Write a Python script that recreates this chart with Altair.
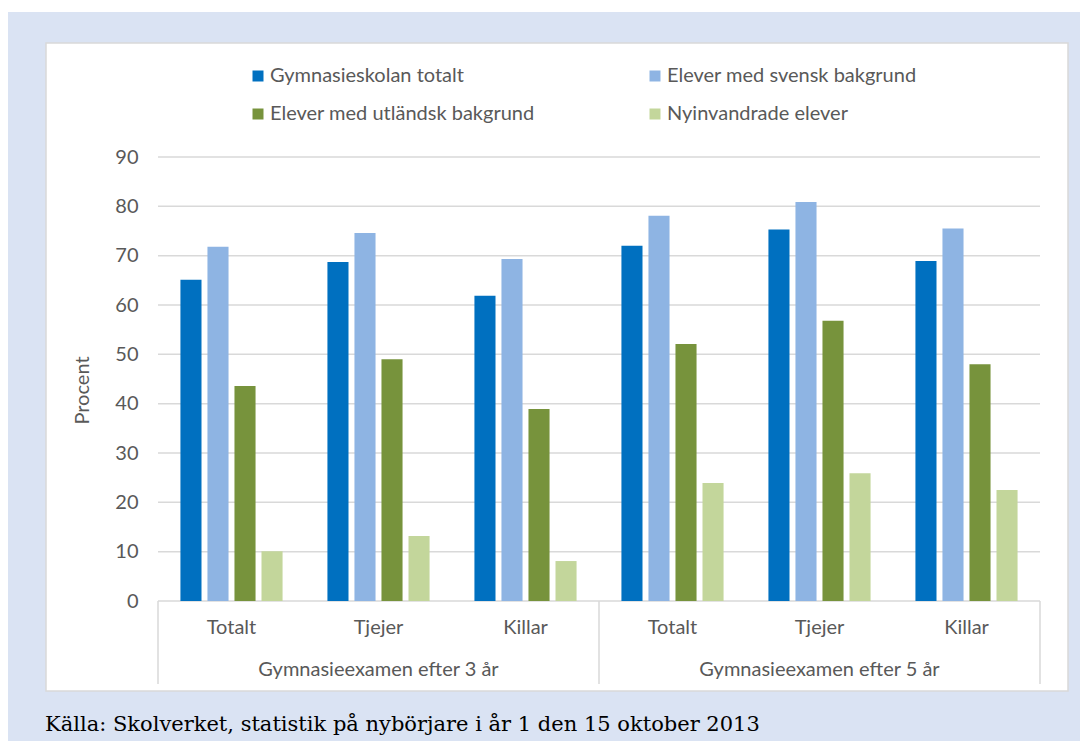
import altair as alt
import pandas as pd

# ---- data -------------------------------------------------------------
group_labels = ["Gymnasieexamen efter 3 år", "Gymnasieexamen efter 5 år"]
group_codes = ["3", "5"]
categories = ["Totalt", "Tjejer", "Killar"]
series = [
    "Gymnasieskolan totalt",
    "Elever med svensk bakgrund",
    "Elever med utländsk bakgrund",
    "Nyinvandrade elever",
]
gymnasieskolan_totalt = [65.1, 68.7, 61.9, 72.0, 75.3, 68.9]
svensk_bakgrund = [71.8, 74.6, 69.3, 78.1, 80.9, 75.5]
utlandsk_bakgrund = [43.6, 49.0, 38.9, 52.1, 56.8, 48.0]
nyinvandrade = [10.1, 13.2, 8.1, 23.9, 25.9, 22.5]
y_ticks = [0, 10, 20, 30, 40, 50, 60, 70, 80, 90]
source_text = "Källa: Skolverket, statistik på nybörjare i år 1 den 15 oktober 2013"

colors = ["#0070C0", "#8EB4E3", "#77933C", "#C3D69B"]
GRAY_TXT = "#595959"
GRID = "#D9D9D9"
BLUE_BG = "#DAE3F3"
FONT = "Lato"

keys = [f"{g}|{c}" for g in group_codes for c in categories]
rows = []
for s, vals in zip(series, [gymnasieskolan_totalt, svensk_bakgrund, utlandsk_bakgrund, nyinvandrade]):
    for k, v in zip(keys, vals):
        rows.append({"key": k, "series": s, "value": v})
df = pd.DataFrame(rows)

W, H = 882, 444
xscale = alt.Scale(domain=keys, paddingInner=0, paddingOuter=0)
xaxis = alt.Axis(
    title=None, labelExpr="split(datum.label, '|')[1]", labelAngle=0,
    ticks=False, domain=False, grid=False, labelFont=FONT, labelFontSize=20,
    labelColor=GRAY_TXT, labelPadding=16, labelBaseline="top", zindex=1,
)
yscale = alt.Scale(domain=[0, 90], nice=False)
yaxis = alt.Axis(
    values=y_ticks, title="Procent", ticks=False, domain=False, grid=False,
    labelFont=FONT, labelFontSize=20, labelColor=GRAY_TXT, labelPadding=20,
    titleFont=FONT, titleFontSize=20, titleFontWeight="normal", titleColor=GRAY_TXT,
    titlePadding=22, titleY=233, zindex=1,
)

one = pd.DataFrame({"a": [0]})

blue_bg = alt.Chart(one).mark_rect(color=BLUE_BG).encode(
    x=alt.value(-150), x2=alt.value(930), y=alt.value(-145), y2=alt.value(600)
)
panel = alt.Chart(one).mark_rect(fill="white", stroke=GRID, strokeWidth=1.5).encode(
    x=alt.value(-112), x2=alt.value(910), y=alt.value(-114), y2=alt.value(534)
)

grid = alt.Chart(pd.DataFrame({"value": y_ticks})).mark_rule(color=GRID, strokeWidth=1.5).encode(
    y=alt.Y("value:Q", scale=yscale, axis=yaxis)
)

bars = alt.Chart(df).mark_bar().encode(
    x=alt.X("key:N", scale=xscale, axis=xaxis),
    xOffset=alt.XOffset("series:N", scale=alt.Scale(domain=series, paddingInner=0.22, paddingOuter=0.83)),
    y=alt.Y("value:Q", scale=yscale, axis=yaxis),
    color=alt.Color(
        "series:N",
        scale=alt.Scale(domain=series, range=colors),
        legend=alt.Legend(
            title=None, orient="none", legendX=90, legendY=-91, columns=2,
            direction="horizontal",
            symbolType="square", symbolSize=121, symbolStrokeWidth=0,
            labelFont=FONT, labelFontSize=20, labelColor=GRAY_TXT, labelOffset=2,
            columnPadding=110, rowPadding=18, labelLimit=500, zindex=1,
        ),
    ),
)

sep_start = alt.Chart(pd.DataFrame({"key": [f"{g}|{categories[0]}" for g in group_codes]})).mark_rule(
    color=GRID, strokeWidth=1.5
).encode(
    x=alt.X("key:N", scale=xscale, axis=xaxis, bandPosition=0),
    y=alt.value(H), y2=alt.value(H + 83),
)
sep_end = alt.Chart(pd.DataFrame({"key": [f"{group_codes[-1]}|{categories[-1]}"]})).mark_rule(
    color=GRID, strokeWidth=1.5
).encode(
    x=alt.X("key:N", scale=xscale, axis=xaxis, bandPosition=1),
    y=alt.value(H), y2=alt.value(H + 83),
)

group_text = alt.Chart(
    pd.DataFrame({"key": [f"{g}|{categories[1]}" for g in group_codes], "label": group_labels})
).mark_text(font=FONT, fontSize=20, color=GRAY_TXT, baseline="middle").encode(
    x=alt.X("key:N", scale=xscale, axis=xaxis),
    y=alt.value(H + 69),
    text="label:N",
)

source = alt.Chart(pd.DataFrame({"t": [source_text]})).mark_text(
    font="DejaVu Serif", fontSize=21, color="black", align="left", baseline="alphabetic"
).encode(x=alt.value(-113), y=alt.value(574), text="t:N")

chart = alt.layer(blue_bg, panel, grid, bars, sep_start, sep_end, group_text, source).properties(
    width=W, height=H,
    padding={"left": 150, "top": 149, "right": 40, "bottom": 140},
    autosize=alt.AutoSizeParams(type="none"),
    background="white",
).configure_view(stroke=None)

chart.save("out.html", embed_options={"renderer": "svg", "actions": False})
